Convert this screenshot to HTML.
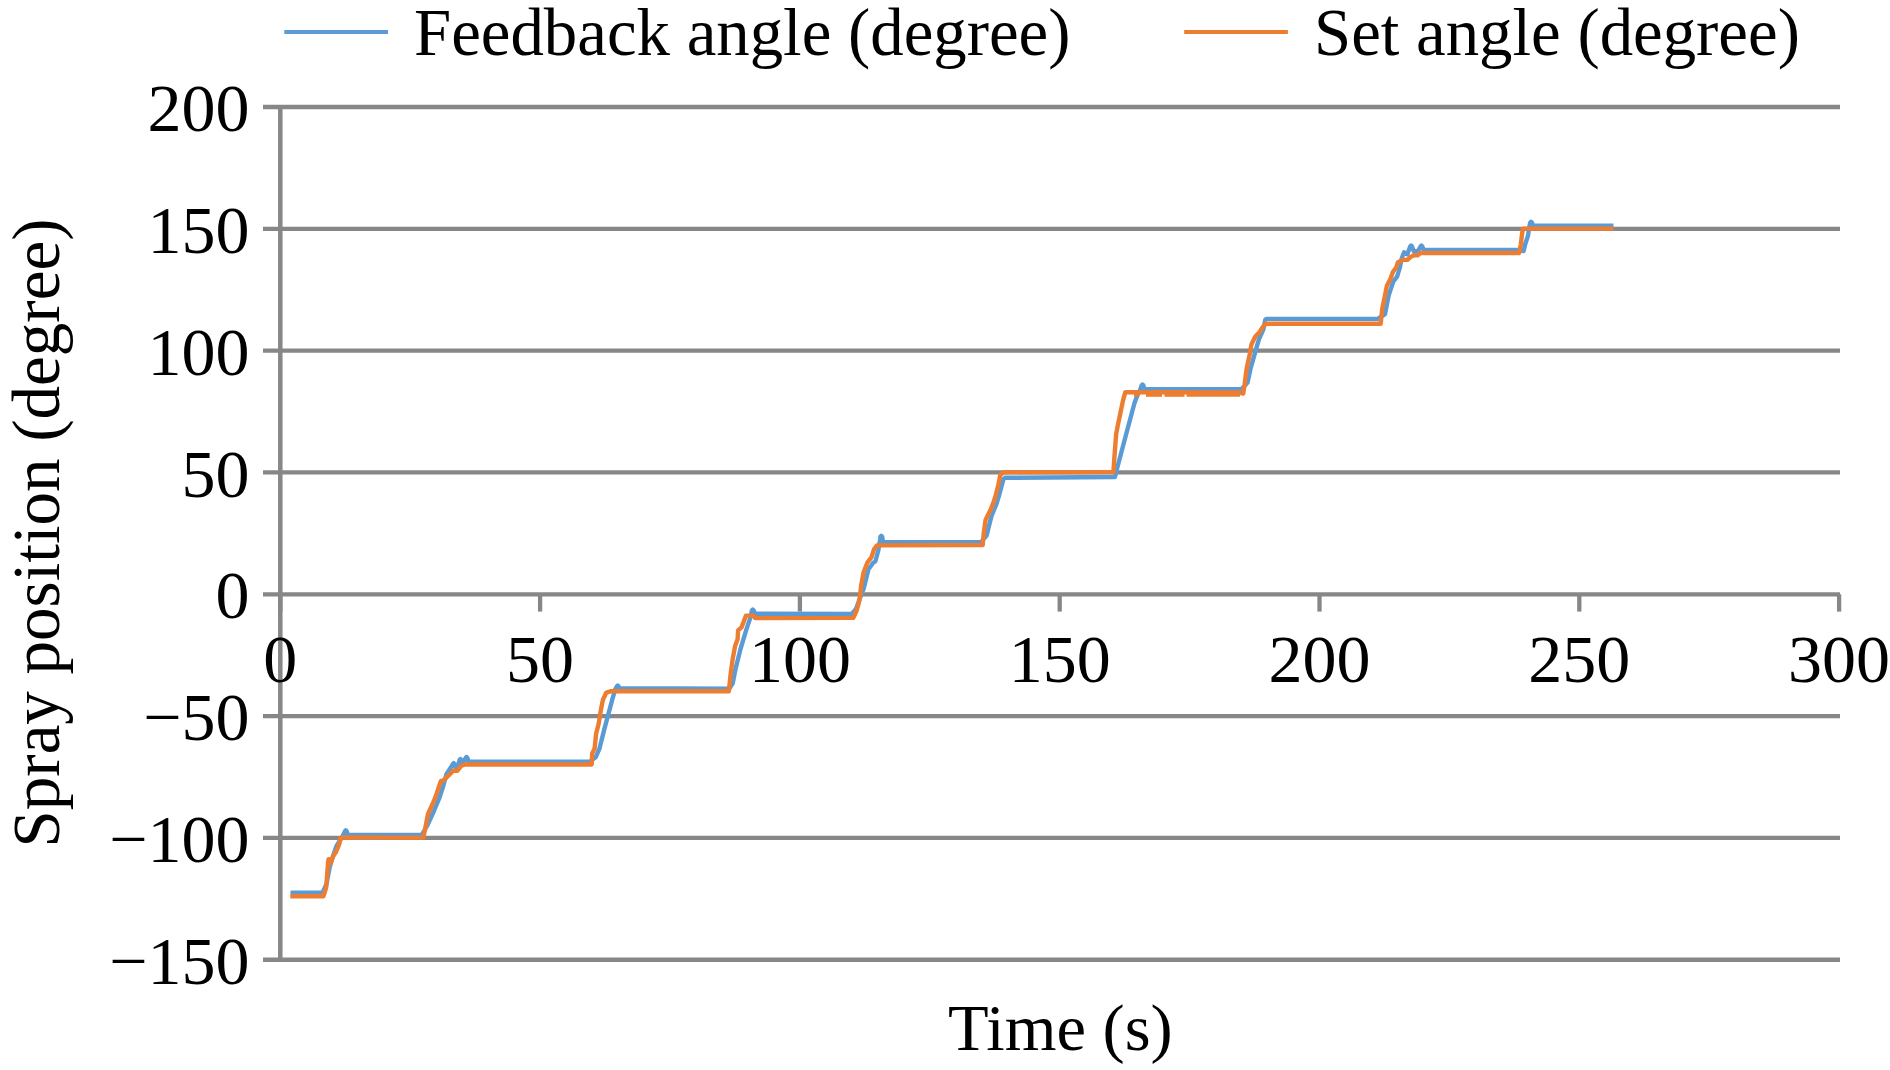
<!DOCTYPE html>
<html><head><meta charset="utf-8"><title>Spray position chart</title>
<style>html,body{margin:0;padding:0;background:#fff;width:1890px;height:1070px;overflow:hidden}svg{display:block}</style>
</head><body>
<svg width="1890" height="1070" viewBox="0 0 1890 1070"><rect width="1890" height="1070" fill="#fff"/><line x1="263" y1="959.77" x2="1840" y2="959.77" stroke="#878787" stroke-width="4.3"/><line x1="263" y1="837.95" x2="1840" y2="837.95" stroke="#878787" stroke-width="4.3"/><line x1="263" y1="716.12" x2="1840" y2="716.12" stroke="#878787" stroke-width="4.3"/><line x1="263" y1="594.30" x2="1840" y2="594.30" stroke="#878787" stroke-width="4.3"/><line x1="263" y1="472.47" x2="1840" y2="472.47" stroke="#878787" stroke-width="4.3"/><line x1="263" y1="350.65" x2="1840" y2="350.65" stroke="#878787" stroke-width="4.3"/><line x1="263" y1="228.82" x2="1840" y2="228.82" stroke="#878787" stroke-width="4.3"/><line x1="263" y1="107.00" x2="1840" y2="107.00" stroke="#878787" stroke-width="4.3"/><line x1="280.30" y1="105.00" x2="280.30" y2="961.77" stroke="#878787" stroke-width="4.5"/><line x1="280.30" y1="594.30" x2="280.30" y2="611.6" stroke="#878787" stroke-width="4.3"/><line x1="540.10" y1="594.30" x2="540.10" y2="611.6" stroke="#878787" stroke-width="4.3"/><line x1="799.90" y1="594.30" x2="799.90" y2="611.6" stroke="#878787" stroke-width="4.3"/><line x1="1059.70" y1="594.30" x2="1059.70" y2="611.6" stroke="#878787" stroke-width="4.3"/><line x1="1319.50" y1="594.30" x2="1319.50" y2="611.6" stroke="#878787" stroke-width="4.3"/><line x1="1579.30" y1="594.30" x2="1579.30" y2="611.6" stroke="#878787" stroke-width="4.3"/><line x1="1839.10" y1="594.30" x2="1839.10" y2="611.6" stroke="#878787" stroke-width="4.3"/><g font-family="Liberation Serif" font-size="67" fill="#000"><text x="249.6" y="983.8" font-size="68" text-anchor="end">−150</text><text x="249.6" y="861.9" font-size="68" text-anchor="end">−100</text><text x="249.6" y="740.1" font-size="68" text-anchor="end">−50</text><text x="249.6" y="618.3" font-size="68" text-anchor="end">0</text><text x="249.6" y="496.5" font-size="68" text-anchor="end">50</text><text x="249.6" y="374.6" font-size="68" text-anchor="end">100</text><text x="249.6" y="252.8" font-size="68" text-anchor="end">150</text><text x="249.6" y="131.0" font-size="68" text-anchor="end">200</text><text x="280.3" y="682" font-size="68" text-anchor="middle">0</text><text x="540.1" y="682" font-size="68" text-anchor="middle">50</text><text x="799.9" y="682" font-size="68" text-anchor="middle">100</text><text x="1059.7" y="682" font-size="68" text-anchor="middle">150</text><text x="1319.5" y="682" font-size="68" text-anchor="middle">200</text><text x="1579.3" y="682" font-size="68" text-anchor="middle">250</text><text x="1839.1" y="682" font-size="68" text-anchor="middle">300</text><text x="1060.3" y="1050" font-size="66.5" text-anchor="middle">Time (s)</text><text transform="translate(59,533) rotate(-90)" text-anchor="middle">Spray position (degree)</text><text x="414" y="55" font-size="66.8">Feedback angle (degree)</text><text x="1314" y="55" font-size="66.8">Set angle (degree)</text></g><line x1="284.3" y1="32" x2="388" y2="32" stroke="#5B9BD5" stroke-width="4.2"/><line x1="1184.2" y1="32" x2="1287.9" y2="32" stroke="#ED7D31" stroke-width="4.2"/><path d="M290.5,892.7 L322.5,892.7 L326.5,884.0 L329.5,868.0 L333.0,856.0 L336.5,846.0 L342.5,836.5 L344.9,831.3 L345.8,830.3 L346.7,831.3 L347.6,834.8 L421.8,834.9 L427.0,826.0 L433.5,812.0 L439.5,797.6 L443.5,785.2 L446.5,773.9 L450.0,768.8 L452.8,764.1 L453.7,763.1 L454.6,764.1 L456.0,768.5 L458.0,766.0 L459.5,760.0 L460.4,759.0 L461.3,760.0 L462.5,763.6 L465.6,758.0 L466.5,757.0 L467.4,758.0 L468.5,761.5 L589.7,761.8 L595.6,757.3 L599.5,748.5 L604.4,728.9 L608.4,714.2 L612.3,699.4 L615.2,689.6 L616.8,686.5 L617.7,685.5 L618.6,686.5 L619.5,688.2 L729.2,688.8 L732.7,683.4 L735.6,668.7 L740.5,649.0 L746.4,629.4 L750.4,617.6 L751.9,610.5 L752.8,609.5 L753.7,610.5 L755.0,613.7 L851.8,613.9 L856.0,609.0 L860.0,598.0 L863.6,588.9 L868.5,569.2 L873.0,563.0 L875.4,561.3 L878.3,550.5 L880.0,540.0 L880.4,536.8 L881.3,535.8 L882.2,536.8 L883.0,542.2 L981.2,541.9 L986.6,535.5 L991.5,515.9 L996.4,504.1 L999.4,494.3 L1003.3,479.6 L1005.0,477.8 L1115.0,477.0 L1117.2,468.0 L1127.0,431.0 L1134.5,403.0 L1137.5,395.0 L1139.8,391.0 L1141.6,385.5 L1142.5,384.5 L1143.4,385.5 L1144.5,389.3 L1241.7,388.9 L1247.6,382.5 L1250.5,368.8 L1255.5,351.1 L1258.9,339.3 L1263.3,329.5 L1265.3,319.6 L1267.0,318.9 L1377.8,318.9 L1385.0,314.1 L1388.7,295.4 L1393.4,281.4 L1397.1,276.7 L1399.9,267.4 L1401.8,258.0 L1404.1,252.4 L1407.4,254.3 L1410.2,246.5 L1411.1,245.5 L1412.0,246.5 L1413.9,251.5 L1418.0,251.0 L1420.5,246.5 L1421.4,245.5 L1422.3,246.5 L1423.5,249.6 L1518.5,249.9 L1523.6,251.0 L1525.2,244.3 L1528.0,235.8 L1529.2,227.4 L1530.2,222.8 L1531.1,221.8 L1532.0,222.8 L1533.0,225.5 L1613.5,225.8" fill="none" stroke="#5B9BD5" stroke-width="4.4" stroke-linejoin="round" stroke-linecap="butt"/><path d="M290.3,896.2 L323.5,896.2 L326.2,887.3 L328.1,861.9 L328.6,859.2 L330.3,864.0 L333.3,855.9 L336.0,852.0 L339.0,845.0 L340.5,838.0 L342.0,837.4 L423.4,837.6 L425.4,827.4 L428.0,814.0 L433.6,801.7 L436.7,793.4 L440.8,781.1 L443.9,780.1 L449.0,775.0 L453.2,770.8 L457.3,770.8 L461.4,765.7 L465.5,764.5 L591.7,764.5 L592.2,753.4 L594.6,748.5 L596.1,733.8 L598.6,724.0 L601.0,709.3 L603.0,699.4 L606.4,692.6 L610.3,691.3 L728.8,691.2 L730.7,673.6 L732.7,658.9 L735.1,646.1 L737.6,639.2 L738.1,630.4 L741.5,627.4 L744.5,619.6 L746.0,615.6 L753.3,615.6 L755.3,618.1 L853.3,617.9 L856.7,610.5 L859.6,599.7 L861.1,585.9 L863.6,572.2 L867.5,562.3 L871.4,557.4 L873.9,549.6 L876.8,545.4 L982.7,545.0 L983.7,533.6 L985.6,519.8 L990.5,510.0 L993.5,502.2 L995.5,496.3 L998.4,484.5 L1000.4,474.6 L1004.3,472.2 L1113.4,472.0 L1114.5,456.0 L1116.1,434.5 L1117.7,425.9 L1120.4,413.0 L1123.1,400.1 L1125.3,392.2 L1238.0,392.4 L1243.2,393.6 L1244.6,384.5 L1246.6,368.8 L1249.6,355.0 L1251.5,344.2 L1255.5,336.3 L1259.4,332.4 L1262.3,327.5 L1266.3,323.7 L1380.7,323.7 L1382.1,309.4 L1385.0,295.4 L1386.8,286.1 L1390.6,278.6 L1392.9,272.1 L1396.2,267.4 L1398.0,262.2 L1402.7,259.9 L1407.4,259.9 L1410.2,257.1 L1413.9,255.2 L1417.7,255.2 L1420.5,252.9 L1519.3,253.0 L1520.8,244.3 L1522.2,233.0 L1523.0,228.8 L1525.2,228.6 L1613.5,228.6" fill="none" stroke="#ED7D31" stroke-width="4.4" stroke-linejoin="round" stroke-linecap="butt"/><path d="M1134.0,394.4 L1139.5,394.4" fill="none" stroke="#ED7D31" stroke-width="4.4" stroke-linecap="butt"/><path d="M1146.0,394.6 L1162.0,394.6" fill="none" stroke="#ED7D31" stroke-width="4.4" stroke-linecap="butt"/><path d="M1164.5,394.6 L1184.5,394.6" fill="none" stroke="#ED7D31" stroke-width="4.4" stroke-linecap="butt"/><path d="M1186.5,394.6 L1240.0,394.6" fill="none" stroke="#ED7D31" stroke-width="4.4" stroke-linecap="butt"/></svg>
</body></html>
